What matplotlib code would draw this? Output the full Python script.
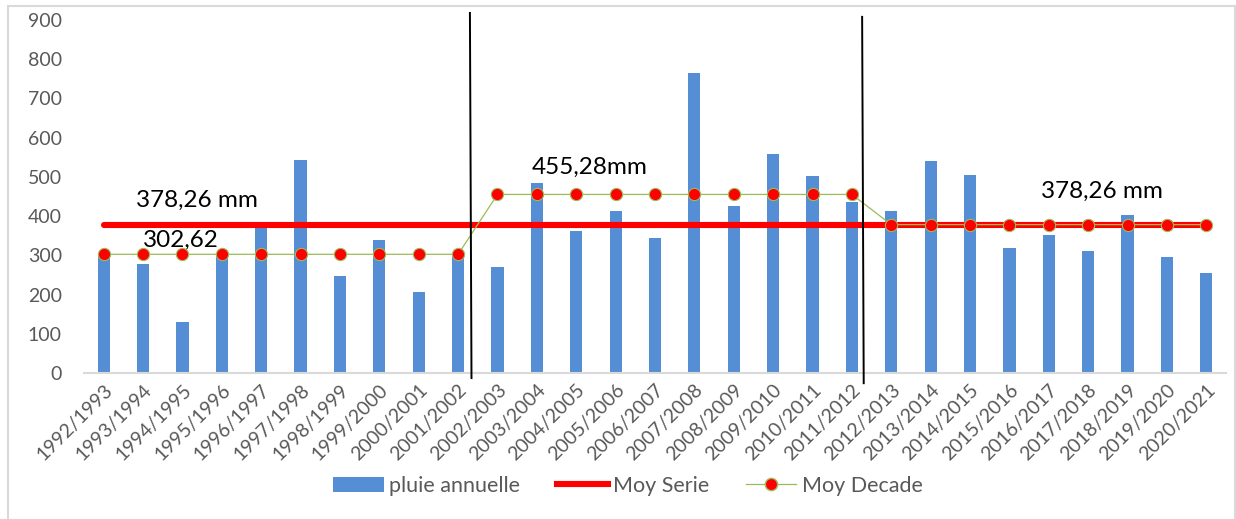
import numpy as np
import matplotlib
matplotlib.use("Agg")
import matplotlib.pyplot as plt
from matplotlib.patches import Rectangle, Patch
from matplotlib.lines import Line2D

plt.rcParams['font.family'] = ['Lato', 'DejaVu Sans']

# annees hydrologiques
saisons = ['1992/1993', '1993/1994', '1994/1995', '1995/1996', '1996/1997',
           '1997/1998', '1998/1999', '1999/2000', '2000/2001', '2001/2002',
           '2002/2003', '2003/2004', '2004/2005', '2005/2006', '2006/2007',
           '2007/2008', '2008/2009', '2009/2010', '2010/2011', '2011/2012',
           '2012/2013', '2013/2014', '2014/2015', '2015/2016', '2016/2017',
           '2017/2018', '2018/2019', '2019/2020', '2020/2021']

pluie = [300, 279, 129, 305, 374, 544, 248, 340, 206, 303,
         271, 484, 362, 414, 343, 765, 425, 559, 502, 437,
         412, 541, 506, 319, 351, 311, 403, 297, 255]

moy_serie = [378.26] * 29
moy_decade = [302.62] * 10 + [455.28] * 10 + [378.26] * 9

# separateurs de decades (x bas, x haut, y bas, y haut)
sep1 = (9.34, 9.30, -13, 918)
sep2 = (19.30, 19.26, -26, 908)

bleu = '#558ed5'
vert = '#9bbb59'
gris = '#595959'

fig = plt.figure(figsize=(12.36, 5.19), dpi=100)
ax = fig.add_axes([84/1236, 1-373/519, (1226-84)/1236, (373-20)/519])

x = np.arange(len(saisons))
ax.bar(x, pluie, width=0.31, color=bleu, zorder=2)
ax.plot(x, moy_serie, color='#ff0000', lw=4.4, solid_capstyle='round', zorder=3)
ax.plot(x, moy_decade, color=vert, lw=0.9, marker='o', markersize=8.8,
        markerfacecolor='#ff0000', markeredgecolor=vert, markeredgewidth=0.8, zorder=4)

for s in (sep1, sep2):
    ax.plot([s[0], s[1]], [s[2], s[3]], color='black', lw=1.4, clip_on=False, zorder=5)

ax.text(0.82, 441, '378,26 mm', fontsize=17.5, va='center', ha='left')
ax.text(1.0, 339, '302,62', fontsize=17.5, va='center', ha='left')
ax.text(10.88, 525, '455,28mm', fontsize=17.5, va='center', ha='left')
ax.text(23.8, 464, '378,26 mm', fontsize=17.5, va='center', ha='left')

ax.set_xlim(-0.5, len(saisons) - 0.5)
ax.set_ylim(0, 900)
ax.set_yticks(range(0, 901, 100))
ax.tick_params(axis='y', length=0, pad=16, labelsize=14, labelcolor=gris)
ax.set_xticks(x)
ax.set_xticklabels(saisons, rotation=45, ha='right', rotation_mode='anchor')
ax.tick_params(axis='x', length=0, pad=6, labelsize=14, labelcolor=gris)

for sp in ['top', 'right', 'left']:
    ax.spines[sp].set_visible(False)
ax.spines['bottom'].set_color('#d9d9d9')
ax.spines['bottom'].set_linewidth(1.5)

handles = [Patch(facecolor=bleu, label='pluie annuelle'),
           Line2D([], [], color='#ff0000', lw=4.4, label='Moy Serie'),
           Line2D([], [], color=vert, lw=0.9, marker='o', markersize=8.8,
                  markerfacecolor='#ff0000', markeredgecolor=vert, label='Moy Decade')]
leg = fig.legend(handles=handles, loc='center', bbox_to_anchor=(628/1236, 1-486/519),
                 ncol=3, frameon=False, fontsize=15.5, handlelength=2.35,
                 handletextpad=0.25, columnspacing=1.7)
for t in leg.get_texts():
    t.set_color(gris)

fig.patches.append(Rectangle((8/1236, -0.01), (1235-8)/1236, 1.01-6/519,
                             transform=fig.transFigure, fill=False,
                             edgecolor='#d9d9d9', lw=1.5))

fig.savefig('out.png', dpi=100)
